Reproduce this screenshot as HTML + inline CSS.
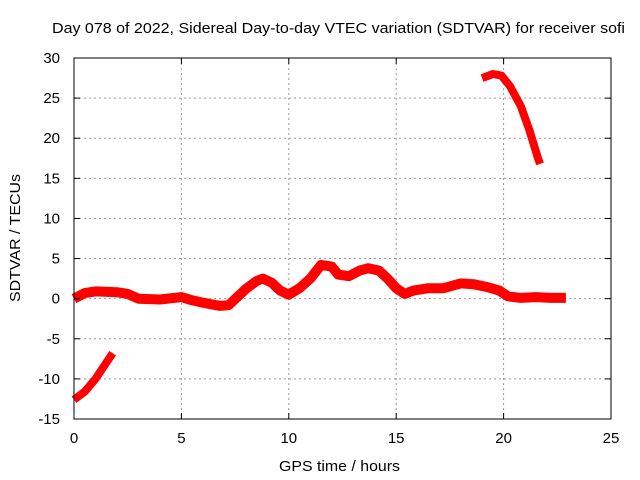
<!DOCTYPE html>
<html><head><meta charset="utf-8"><style>
body{margin:0;background:#fff;}
svg{display:block;font-family:"Liberation Sans",sans-serif;}
</style></head><body>
<svg id="chart" width="640" height="480">
<rect width="640" height="480" fill="#fff"/>
<g id="grid"></g>
<g id="series"></g>
<rect x="74" y="58" width="537" height="361" fill="none" stroke="#000" stroke-width="1"/>
<g id="ticks"></g>
<text x="52" y="33" font-size="15" textLength="573" lengthAdjust="spacingAndGlyphs">Day 078 of 2022, Sidereal Day-to-day VTEC variation (SDTVAR) for receiver sofi</text>
<text x="279" y="471" font-size="15" textLength="121" lengthAdjust="spacingAndGlyphs">GPS time / hours</text>
<text transform="translate(20,302) rotate(-90)" font-size="15" textLength="128" lengthAdjust="spacingAndGlyphs">SDTVAR / TECUs</text>
</svg>
<script>
const xTicks=[0,5,10,15,20,25];
const yTicks=[-15,-10,-5,0,5,10,15,20,25,30];
const mainHours=[0,0.5,1,2,2.5,3,4,5,5.5,6,6.8,7.2,7.6,8,8.5,8.8,9.2,9.6,10,10.5,11,11.5,12,12.3,12.8,13.3,13.7,14.2,14.6,15,15.4,15.8,16.5,17.2,18,18.6,19.3,19.8,20.2,20.8,21.5,22.2,22.9];
const mainValues=[0.0,0.7,0.9,0.8,0.6,0.0,-0.1,0.2,-0.2,-0.5,-0.9,-0.8,0.2,1.2,2.2,2.5,2.0,1.0,0.5,1.3,2.5,4.2,4.0,3.0,2.8,3.5,3.8,3.5,2.5,1.3,0.6,1.0,1.3,1.3,1.9,1.8,1.4,1.0,0.3,0.1,0.2,0.1,0.1];
const earlyHours=[0,0.5,1,1.5,1.8];
const earlyValues=[-12.6,-11.6,-10.0,-8.0,-6.8];
const lateHours=[19.0,19.5,19.9,20.3,20.8,21.2,21.6,21.7];
const lateValues=[27.5,28.0,27.8,26.5,24.0,21.0,17.5,16.8];
const X0=74,X1=611,Y0=419,Y1=58,xmin=0,xmax=25,ymin=-15,ymax=30;
const sx=v=>X0+(v-xmin)/(xmax-xmin)*(X1-X0);
const sy=v=>Y0-(v-ymin)/(ymax-ymin)*(Y0-Y1);
const NS="http://www.w3.org/2000/svg";
const grid=document.getElementById('grid'),ticks=document.getElementById('ticks'),series=document.getElementById('series');
function mk(t,a,p){const e=document.createElementNS(NS,t);for(const k in a)e.setAttribute(k,a[k]);p.appendChild(e);return e;}
xTicks.forEach(v=>{const x=sx(v);
 if(v>xmin&&v<xmax){const g=mk('line',{x1:x,x2:x,y1:Y1,y2:Y0,stroke:'#999','stroke-dasharray':'2,3'},grid);
 
 }
 mk('line',{x1:x,x2:x,y1:Y0,y2:Y0-6,stroke:'#000'},ticks);
 mk('line',{x1:x,x2:x,y1:Y1,y2:Y1+6,stroke:'#000'},ticks);
 const t=mk('text',{x:x,y:Y0+24,'text-anchor':'middle','font-size':15},ticks);t.textContent=v;
 
 });
yTicks.forEach(v=>{const y=sy(v);
 if(v>ymin&&v<ymax){const g=mk('line',{x1:X0,x2:X1,y1:y,y2:y,stroke:'#999','stroke-dasharray':'2,3'},grid);
 
 }
 mk('line',{x1:X0,x2:X0+6,y1:y,y2:y,stroke:'#000'},ticks);
 mk('line',{x1:X1,x2:X1-6,y1:y,y2:y,stroke:'#000'},ticks);
 const t=mk('text',{x:X0-14,y:y+5,'text-anchor':'end','font-size':15},ticks);t.textContent=v;
 
 });
function band(hs,vs,w,name){
 const pts=hs.map((h,i)=>sx(h).toFixed(1)+','+sy(vs[i]).toFixed(1)).join(' ');
 const p=mk('polyline',{points:pts,fill:'none',stroke:'#f00','stroke-width':w,'stroke-linejoin':'round','stroke-linecap':'butt'},series);
 
 }
band(mainHours,mainValues,10,'main-series');
band(earlyHours,earlyValues,8,'early-series');
band(lateHours,lateValues,8,'late-series');
</script>
</body></html>
